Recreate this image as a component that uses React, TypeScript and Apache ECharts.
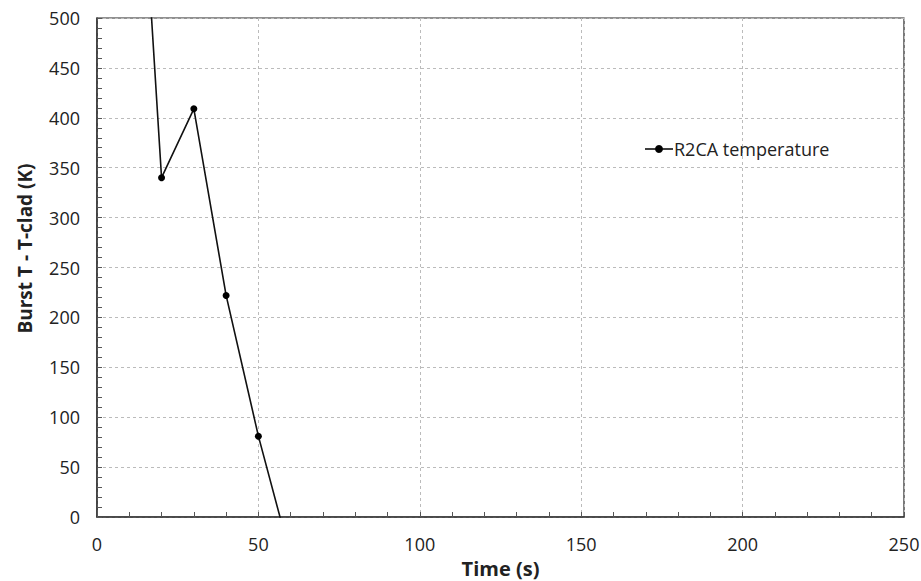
import React, { useEffect, useRef } from "react";
import * as echarts from "echarts";

const timeValues = [10, 20, 30, 40, 50, 60];
const tempValues = [856, 340, 409, 222, 81, -40];
const seriesName = "R2CA temperature";
const xTitle = "Time (s)";
const yTitle = "Burst T - T-clad (K)";

export default function App() {
  const ref = useRef<HTMLDivElement>(null);
  useEffect(() => {
    if (!ref.current) return;
    const chart = echarts.init(ref.current, null, { renderer: "svg" });
    const data = timeValues.map((t, i) => [t, tempValues[i]]);
    const tickFont = { fontFamily: "Open Sans", fontSize: 18, color: "#222" };
    chart.setOption({
      animation: false,
      backgroundColor: "#fff",
      grid: {
        left: 97,
        top: 18,
        right: 17,
        bottom: 64,
        outerBoundsMode: "none",
        containLabel: false,
        show: true,
        borderColor: "#222",
        borderWidth: 1.2,
      },
      legend: {
        left: 640,
        top: 135,
        itemWidth: 28,
        itemHeight: 8,
        itemGap: 2,
        textStyle: { fontFamily: "Open Sans", fontSize: 18, color: "#222", padding: [0, 0, 0, -4] },
        data: [
          {
            name: seriesName,
            icon: "path://M0,3.2H28V4.8H0Z M14,0A4,4 0 1 1 13.99,0Z",
            itemStyle: { color: "#000" },
          },
        ],
      },
      xAxis: {
        type: "value",
        min: 0,
        max: 250,
        interval: 50,
        name: xTitle,
        nameLocation: "middle",
        nameGap: 41,
        nameTextStyle: {
          fontFamily: "Open Sans",
          fontWeight: "bold",
          fontSize: 20,
          lineHeight: 20,
          color: "#222",
        },
        axisLine: { show: true, lineStyle: { color: "#333", width: 1.5 } },
        axisTick: { show: true, inside: true, length: 5, lineStyle: { color: "#555" } },
        minorTick: { show: true, splitNumber: 5, length: 5, lineStyle: { color: "#555" } },
        axisLabel: { ...tickFont, margin: 18 },
        splitLine: { show: true, lineStyle: { color: "#bbb", type: [3, 3], width: 1 } },
      },
      yAxis: {
        type: "value",
        min: 0,
        max: 500,
        interval: 50,
        name: yTitle,
        nameLocation: "middle",
        nameGap: 63,
        nameTextStyle: {
          fontFamily: "Open Sans",
          fontWeight: "bold",
          fontSize: 19,
          color: "#222",
          padding: [0, 0, 0, 38],
        },
        axisLine: { show: true, lineStyle: { color: "#333", width: 1.5 } },
        axisTick: { show: true, inside: true, length: 5, lineStyle: { color: "#555" } },
        minorTick: { show: true, splitNumber: 5, length: 5, lineStyle: { color: "#555" } },
        axisLabel: { ...tickFont, margin: 17 },
        splitLine: { show: true, lineStyle: { color: "#bbb", type: [3, 3], width: 1 } },
      },
      series: [
        {
          name: seriesName,
          type: "line",
          data,
          clip: true,
          symbol: "circle",
          symbolSize: 7,
          color: "#000",
          lineStyle: { color: "#111", width: 1.6 },
          itemStyle: { color: "#000" },
        },
      ],
    });
    return () => chart.dispose();
  }, []);
  return <div ref={ref} style={{ width: 921, height: 581, position: "absolute", left: 0, top: 0 }} />;
}
